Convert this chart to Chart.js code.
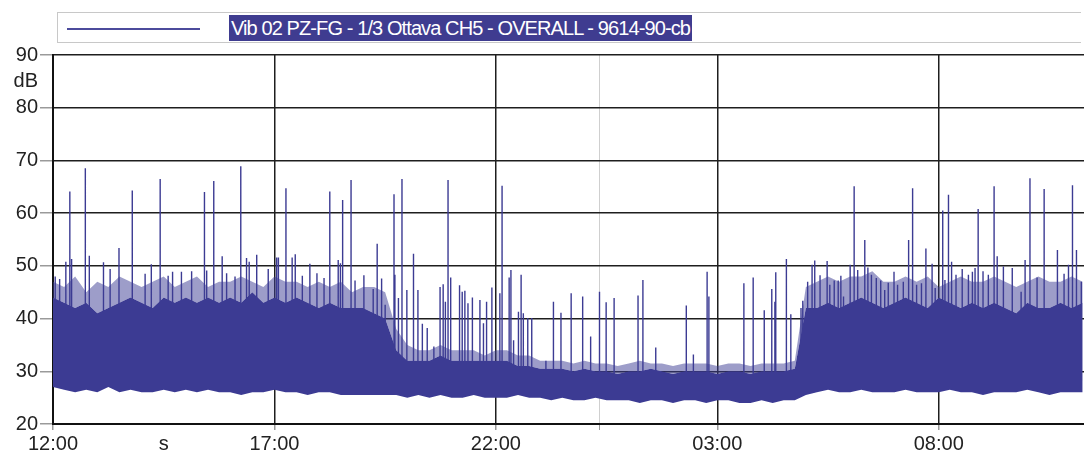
<!DOCTYPE html>
<html>
<head>
<meta charset="UTF-8" />
<title>Vib 02 PZ-FG</title>
<script src="https://cdn.jsdelivr.net/npm/chart.js"></script>
<style>
html, body { margin:0; padding:0; background:#fff; }
#wrap { position:relative; width:1084px; height:462px; overflow:hidden; }
#legend { position:absolute; left:57px; top:12px; width:1024px; height:31px; border:1px solid #c8c8c8; border-right:none; box-sizing:border-box; }
#legend .sample { position:absolute; left:9px; top:15px; width:133px; height:2px; background:#4c4b9c; }
#legend .label { position:absolute; left:171px; top:2px; height:26px; line-height:27px; padding:0 2px; background:#3f3c90; color:#fff;
  font-family:'Liberation Sans Narrow','Liberation Sans',Arial,sans-serif; font-size:20px; letter-spacing:-0.9px; white-space:nowrap; }
canvas { position:absolute; left:0; top:0; }
</style>
</head>
<body>
<div id="wrap">
  <canvas id="chart" width="1084" height="462"></canvas>
  <div id="legend"><div class="sample"></div><div class="label">Vib 02 PZ-FG - 1/3 Ottava CH5 - OVERALL - 9614-90-cb</div></div>
</div>

<script>
// hours since 12:00, tick labels
const xTickHours = [0, 2.5, 5, 10, 12.35, 15, 20];
const xTickLabels = ['12:00', 's', '17:00', '22:00', '', '03:00', '08:00'];
const yTicks = [20, 30, 40, 50, 60, 70, 80, 85, 90];
const yTickLabels = ['20', '30', '40', '50', '60', '70', '80', 'dB', '90'];

// envelope of the trace, one value every 15 minutes from 12:00
const binHours = 0.25;
const grassHi = [47,46,48,45,47,46,48,47,46,47,48,46,47,48,46,47,
  47,48,47,46,48,47,47,46,47,46,47,45,46,46,45,
  38,35,34,34,35,34,34,34,33,34,34,33,33,32,32,32,
  31.5,32,31.5,31.5,31,31.5,32,31.5,31.5,31,31.5,31.5,31.5,31,31.5,31.5,31,31.5,31.5,31.5,32,
  46,47,48,47,48,48,49,47,47,48,47,48,46,47,48,47,47,48,47,46,47,48,47,47,48,47];
const coreHi = [44,43,42,43,41,42,43,44,43,42,44,43,44,43,44,43,
  44,43,45,43,44,43,44,43,42,43,42,42,42,41,40,
  34,32,32,32,33,32,32,32,32,32,32,31,31,30.5,30.5,30.5,
  30,30.5,30,30,29.5,30,30,30.5,30,29.5,30,30,30,29.5,30,30,29.5,30,30,30,30.5,
  42,42,43,42,43,44,43,42,43,44,43,42,44,43,42,43,42,43,42,41,43,42,42,43,42,43];
const coreLo = [27,26.5,26,26.5,26,27,26,26.5,26,26,26.5,26,26.5,26,26.5,26,
  26,25.5,26,26,26.5,26,26,25.5,26,26,25.5,25.5,25.5,25.5,
  25.5,25.5,25,25.5,25,25.5,25,25,25.5,25,25,25,25.5,25,25,24.5,25,
  24.5,24.5,25,24.5,24.5,24.5,24,24.5,24.5,24,24.5,24.5,24,24.5,24.5,24,24,24.5,24,24.5,24.5,
  25.5,26,26.5,26,26,26.5,26,26,26,26.5,26,26,26,26.5,26,26,25.5,26,26,26,26.5,26,25.5,26,26,26];

// isolated peaks: time (hours since 12:00) and top level (dB)
const spikeHours = [0.05,0.15,0.29,0.38,0.42,0.73,0.82,1.14,1.29,1.49,1.79,2.08,2.22,2.42,2.6,2.7,2.9,3.13,3.42,3.47,3.63,
  3.82,3.92,4.11,4.24,4.37,4.43,4.6,4.86,5.05,5.09,5.26,5.4,5.47,5.63,5.8,5.96,6.12,6.25,6.44,6.49,6.54,6.73,6.82,7.02,7.1,7.23,7.32,7.42,7.5,
  7.61,7.7,7.72,7.8,7.88,7.99,8.14,8.24,8.34,8.45,8.6,8.74,8.81,8.86,8.92,8.98,9.18,9.24,9.3,9.37,9.47,9.64,9.72,9.79,9.91,10.09,10.14,10.3,10.34,10.4,10.51,10.57,10.62,10.72,10.81,11.13,11.3,
  11.47,11.7,11.96,12.14,12.34,12.49,12.67,13.21,13.32,13.61,14.3,14.46,14.77,14.81,
  15.6,15.81,16.06,16.23,16.3,16.32,16.56,16.66,16.89,16.93,17.04,17.14,17.2,17.32,17.48,17.54,17.64,17.73,17.79,17.85,18,18.09,18.17,18.33,18.4,18.48,18.59,18.69,18.78,18.86,18.99,
  19.07,19.2,19.32,19.41,19.5,19.61,19.71,19.85,19.92,20.09,20.14,20.22,20.29,20.39,20.53,20.67,20.76,20.82,20.89,21,21.12,21.25,21.32,21.46,21.66,21.86,21.95,22.06,22.22,22.38,22.68,22.83,22.93,23.02,23.11,23.22];
const spikeTops = [48,47.5,50.8,64.1,51.3,68.5,51.9,50.7,49.4,53.4,64.3,48.5,50.3,66.5,48.1,48.9,48.9,49,64,49.1,66.1,
  51.8,48.6,48,68.9,51.5,50.8,52.1,49.4,51.6,51.6,64.7,51.6,52.2,48.1,50.4,48.6,47.7,64.1,51.1,50.5,62.5,66.3,47.2,48.2,40.9,45.6,54.2,47.6,42.6,
  36.3,63.6,48.3,43.9,66.5,45.4,52.3,45.4,39,38.2,34.7,46,46.5,43.2,66.3,47.8,46.3,45.1,45.3,42.9,44,43.5,39.1,43.2,45.9,44.8,65.2,47.8,49.2,35.9,41.3,48.3,41,40.1,40.1,32,43.2,
  41.1,44.8,44.2,36.6,45.1,43.1,43.9,44.4,47.3,34.5,42.5,33.2,48.9,44.2,
  46.7,47.8,41.6,45.6,43.2,48.8,51.3,40.8,42,43.4,47,50.2,51,48.2,50.9,46.4,47.2,47.2,48.1,44.2,50.2,65.1,49.2,54.9,49.7,48.3,47.7,47.2,45.4,46.8,48.9,
  46.4,47,54.9,64.7,46.4,46.7,53.3,50.4,45.8,60.5,47.3,63.5,50.8,48.3,49.4,48.3,48.9,49.6,60.8,49,48.3,65.1,51.8,49.9,49.6,45.1,51.1,66.6,47.8,64.6,53,48.5,50.2,65.3,53,47];

const traceColor = '#3c3b93';
const fontFamily = "'Liberation Sans Narrow','Liberation Sans',Arial,sans-serif";

const envelope = arr => arr.map((v, i) => ({ x: i * binHours, y: v }));
const spikePoints = [];
spikeHours.forEach((t, i) => {
  spikePoints.push({ x: t, y: 28 }, { x: t, y: spikeTops[i] }, { x: t, y: null });
});

new Chart(document.getElementById('chart'), {
  type: 'line',
  data: {
    datasets: [
      { data: envelope(grassHi), borderWidth: 0, backgroundColor: 'rgba(60,59,147,0.5)', fill: '+1', pointRadius: 0 },
      { data: envelope(coreHi), borderWidth: 0, backgroundColor: traceColor, fill: '+1', pointRadius: 0 },
      { data: envelope(coreLo), borderWidth: 0, fill: false, pointRadius: 0 },
      { data: spikePoints, borderColor: traceColor, borderWidth: 1.4, fill: false, pointRadius: 0, spanGaps: false }
    ]
  },
  options: {
    responsive: false,
    animation: false,
    events: [],
    layout: { padding: { top: 55, right: 0, left: 0, bottom: 0 } },
    plugins: { legend: { display: false }, tooltip: { enabled: false } },
    scales: {
      x: {
        type: 'linear',
        min: 0,
        max: 23.28,
        afterFit: s => { s.height = 38; },
        afterBuildTicks: s => { s.ticks = xTickHours.map(v => ({ value: v })); },
        ticks: {
          autoSkip: false,
          maxRotation: 0,
          padding: 2,
          color: '#222',
          font: { family: fontFamily, size: 20 },
          callback: (v, i) => xTickLabels[i]
        },
        grid: {
          color: c => c.tick && c.tick.value === 12.35 ? '#cfcfcf' : (c.tick && c.tick.value === 2.5 ? 'rgba(0,0,0,0)' : '#1e1e1e'),
          lineWidth: c => c.tick && c.tick.value === 12.35 ? 1 : 1.5,
          tickColor: c => c.tick && c.tick.value === 2.5 ? 'rgba(0,0,0,0)' : '#9a9a9a',
          tickLength: 6
        },
        border: { color: '#111', width: 2 }
      },
      y: {
        min: 20,
        max: 90,
        afterFit: s => { s.width = 53; },
        afterBuildTicks: s => { s.ticks = yTicks.map(v => ({ value: v })); },
        ticks: {
          autoSkip: false,
          padding: 2,
          color: '#222',
          font: { family: fontFamily, size: 20 },
          callback: (v, i) => yTickLabels[i]
        },
        grid: {
          color: c => c.tick && c.tick.value === 85 ? 'rgba(0,0,0,0)' : '#1e1e1e',
          lineWidth: 1.5,
          tickColor: c => c.tick && c.tick.value === 85 ? 'rgba(0,0,0,0)' : '#9a9a9a',
          tickLength: 13
        },
        border: { color: '#111', width: 2 }
      }
    }
  }
});
</script>
</body>
</html>
